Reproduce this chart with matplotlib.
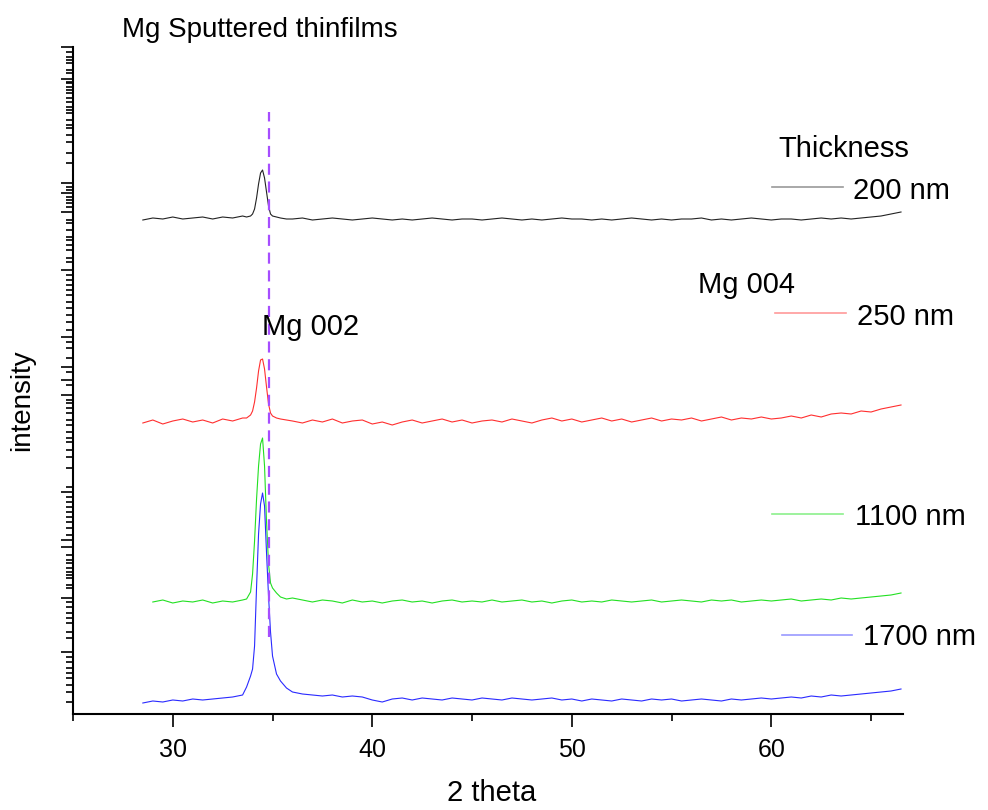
import numpy as np
import matplotlib
matplotlib.use('Agg')
from matplotlib import pyplot as plt
from matplotlib.lines import Line2D

plt.rcParams['font.family'] = ['Liberation Sans', 'DejaVu Sans']

# 2 theta sample positions (coarse on the baseline, dense round the Mg 002 peak)
two_theta = [28.5, 29.0, 29.5, 30.0, 30.5, 31.0, 31.5, 32.0, 32.5, 33.0, 33.5,
             33.7, 33.9, 34.0, 34.1, 34.2, 34.3, 34.4, 34.5, 34.6, 34.7, 34.8, 34.9, 35.0, 35.2, 35.4, 35.7,
             36.0, 36.5, 37.0, 37.5, 38.0, 38.5, 39.0, 39.5, 40.0, 40.5,
             41.0, 41.5, 42.0, 42.5, 43.0, 43.5, 44.0, 44.5, 45.0, 45.5,
             46.0, 46.5, 47.0, 47.5, 48.0, 48.5, 49.0, 49.5, 50.0, 50.5,
             51.0, 51.5, 52.0, 52.5, 53.0, 53.5, 54.0, 54.5, 55.0, 55.5,
             56.0, 56.5, 57.0, 57.5, 58.0, 58.5, 59.0, 59.5, 60.0, 60.5,
             61.0, 61.5, 62.0, 62.5, 63.0, 63.5, 64.0, 64.5, 65.0, 65.5,
             66.0, 66.5]

# stacked intensities (arbitrary units, offset per thickness)
i_200 = [494, 496, 495, 497, 495, 496, 497, 495, 497, 496, 498,
         497, 498, 500, 505, 516, 530, 541, 544, 536, 522, 508, 500, 498, 497, 496, 495,
         495, 496, 494, 495, 496, 495, 494, 495, 496, 495,
         494, 495, 494, 495, 496, 495, 494, 495, 495, 494,
         495, 496, 495, 494, 495, 494, 495, 496, 495, 495,
         494, 495, 494, 495, 496, 495, 494, 495, 494, 495,
         495, 496, 494, 495, 494, 495, 496, 495, 494, 495,
         495, 494, 495, 496, 495, 496, 495, 496, 497, 498,
         500, 502]

i_250 = [291, 294, 290, 293, 295, 292, 294, 291, 295, 293, 296,
         296, 299, 303, 312, 326, 343, 354, 355, 345, 327, 310, 301, 298, 296, 295, 294,
         293, 291, 294, 292, 295, 291, 293, 294, 290, 292,
         289, 292, 294, 291, 293, 295, 292, 294, 291, 293,
         294, 292, 295, 293, 291, 294, 296, 293, 295, 292,
         294, 296, 293, 295, 292, 294, 296, 293, 295, 294,
         296, 293, 295, 297, 294, 296, 295, 297, 295, 296,
         298, 296, 299, 297, 300, 301, 300, 303, 302, 305,
         307, 309]

i_1100 = [np.nan, 112, 114, 111, 113, 112, 114, 111, 113, 112, 114,
          115, 122, 140, 173, 215, 248, 270, 276, 248, 192, 150, 131, 126, 121, 117, 115,
          116, 114, 112, 114, 113, 111, 114, 112, 113, 111,
          113, 114, 112, 113, 111, 113, 114, 112, 113, 112,
          114, 112, 113, 114, 112, 113, 111, 113, 114, 112,
          113, 112, 114, 113, 112, 113, 114, 112, 113, 114,
          113, 112, 114, 113, 114, 112, 113, 114, 113, 114,
          115, 113, 114, 115, 114, 116, 115, 116, 117, 118,
          119, 121]

i_1700 = [11, 13, 12, 14, 13, 15, 14, 15, 16, 17, 19,
          27, 38, 45, 68, 127, 180, 210, 221, 208, 161, 118, 82, 58, 40, 33, 26,
          22, 20, 19, 18, 19, 17, 18, 17, 14, 12,
          15, 16, 14, 16, 15, 14, 16, 15, 14, 16,
          15, 14, 16, 15, 14, 15, 16, 14, 15, 13,
          15, 14, 13, 15, 14, 13, 15, 14, 15, 13,
          14, 15, 14, 13, 15, 14, 15, 16, 15, 16,
          17, 16, 18, 17, 19, 18, 19, 20, 21, 22,
          23, 25]

thickness_labels = ['200 nm', '250 nm', '1100 nm', '1700 nm']
series = [i_200, i_250, i_1100, i_1700]
line_colors = ['#222222', '#ff2f2f', '#22e022', '#2a2aff']
key_colors = ['#999999', '#ff9a9a', '#8cf08c', '#9a9aff']

mg002_pos = 34.83
dash_span = (77, 602)

# the odd y ticks of the original axis (data units)
ytick_long = [667, 635, 531, 521, 502, 444, 377, 347, 334, 319, 222, 174, 167, 116, 62]
ytick_short = [662, 657, 654, 651, 644, 641, 632, 631, 627, 624, 621, 616, 612, 607, 604, 601,
               594, 589, 586, 579, 572, 561, 551, 527, 524, 517, 514, 511, 507, 494, 491, 484,
               477, 474, 469, 464, 456, 452, 439, 434, 429, 424, 419, 412, 406, 399, 392, 384,
               372, 366, 356, 342, 329, 314, 311, 306, 301, 294, 289, 282, 276, 272, 264, 257,
               246, 227, 217, 212, 207, 202, 197, 192, 186, 179, 159, 154, 151, 146, 142, 139,
               136, 129, 126, 112, 107, 101, 96, 91, 82, 76, 57, 52, 46, 41, 36, 29, 22, 12]


def px(x, y):
    return x / 988, 1 - y / 810


fig = plt.figure(figsize=(9.88, 8.1), dpi=100)
ax = fig.add_axes([73 / 988, 96 / 810, 830 / 988, 667 / 810])

for vals, col in zip(series, line_colors):
    ax.plot(two_theta, vals, color=col, lw=0.8)

ax.plot([mg002_pos, mg002_pos], dash_span, color='#a64dff', lw=1.6,
        linestyle=(0, (5, 3)))

ax.set_xlim(25, 66.6)
ax.set_ylim(0, 667)
ax.set_xticks([30, 40, 50, 60])
ax.set_xticks([25, 35, 45, 55, 65], minor=True)
ax.set_yticks(ytick_long)
ax.set_yticks(ytick_short, minor=True)
ax.set_yticklabels([])
ax.tick_params(axis='x', which='major', length=9, width=1.2, labelsize=18, pad=8)
ax.tick_params(axis='x', which='minor', length=5, width=1.2)
ax.tick_params(axis='y', which='major', length=9, width=1.2)
ax.tick_params(axis='y', which='minor', length=5, width=1.2)
for s in ['top', 'right']:
    ax.spines[s].set_visible(False)
for s in ['left', 'bottom']:
    ax.spines[s].set_linewidth(1.5)

fig.text(*px(122, 37), 'Mg Sputtered thinfilms', fontsize=20, va='baseline')
fig.text(*px(262, 335), 'Mg 002', fontsize=21, va='baseline')
fig.text(*px(698, 293), 'Mg 004', fontsize=21, va='baseline')
fig.text(*px(22, 400), 'intensity', fontsize=20, rotation=90, ha='center', va='center')
fig.text(*px(492, 801), '2 theta', fontsize=21, ha='center', va='baseline')

# hand-placed key
fig.text(*px(778, 157), 'Thickness', fontsize=21, va='baseline')
key_rows = [(772, 843, 187, 853, 199), (775, 846, 313, 857, 325),
            (772, 843, 514, 855, 525), (782, 852, 635, 863, 645)]
for (x0, x1, yl, xt, yt), lab, kc in zip(key_rows, thickness_labels, key_colors):
    fig.add_artist(Line2D([x0 / 988, x1 / 988], [1 - yl / 810] * 2, color=kc, lw=1.2,
                          transform=fig.transFigure))
    fig.text(*px(xt, yt), lab, fontsize=21, va='baseline')

fig.savefig('out.png', dpi=100)
